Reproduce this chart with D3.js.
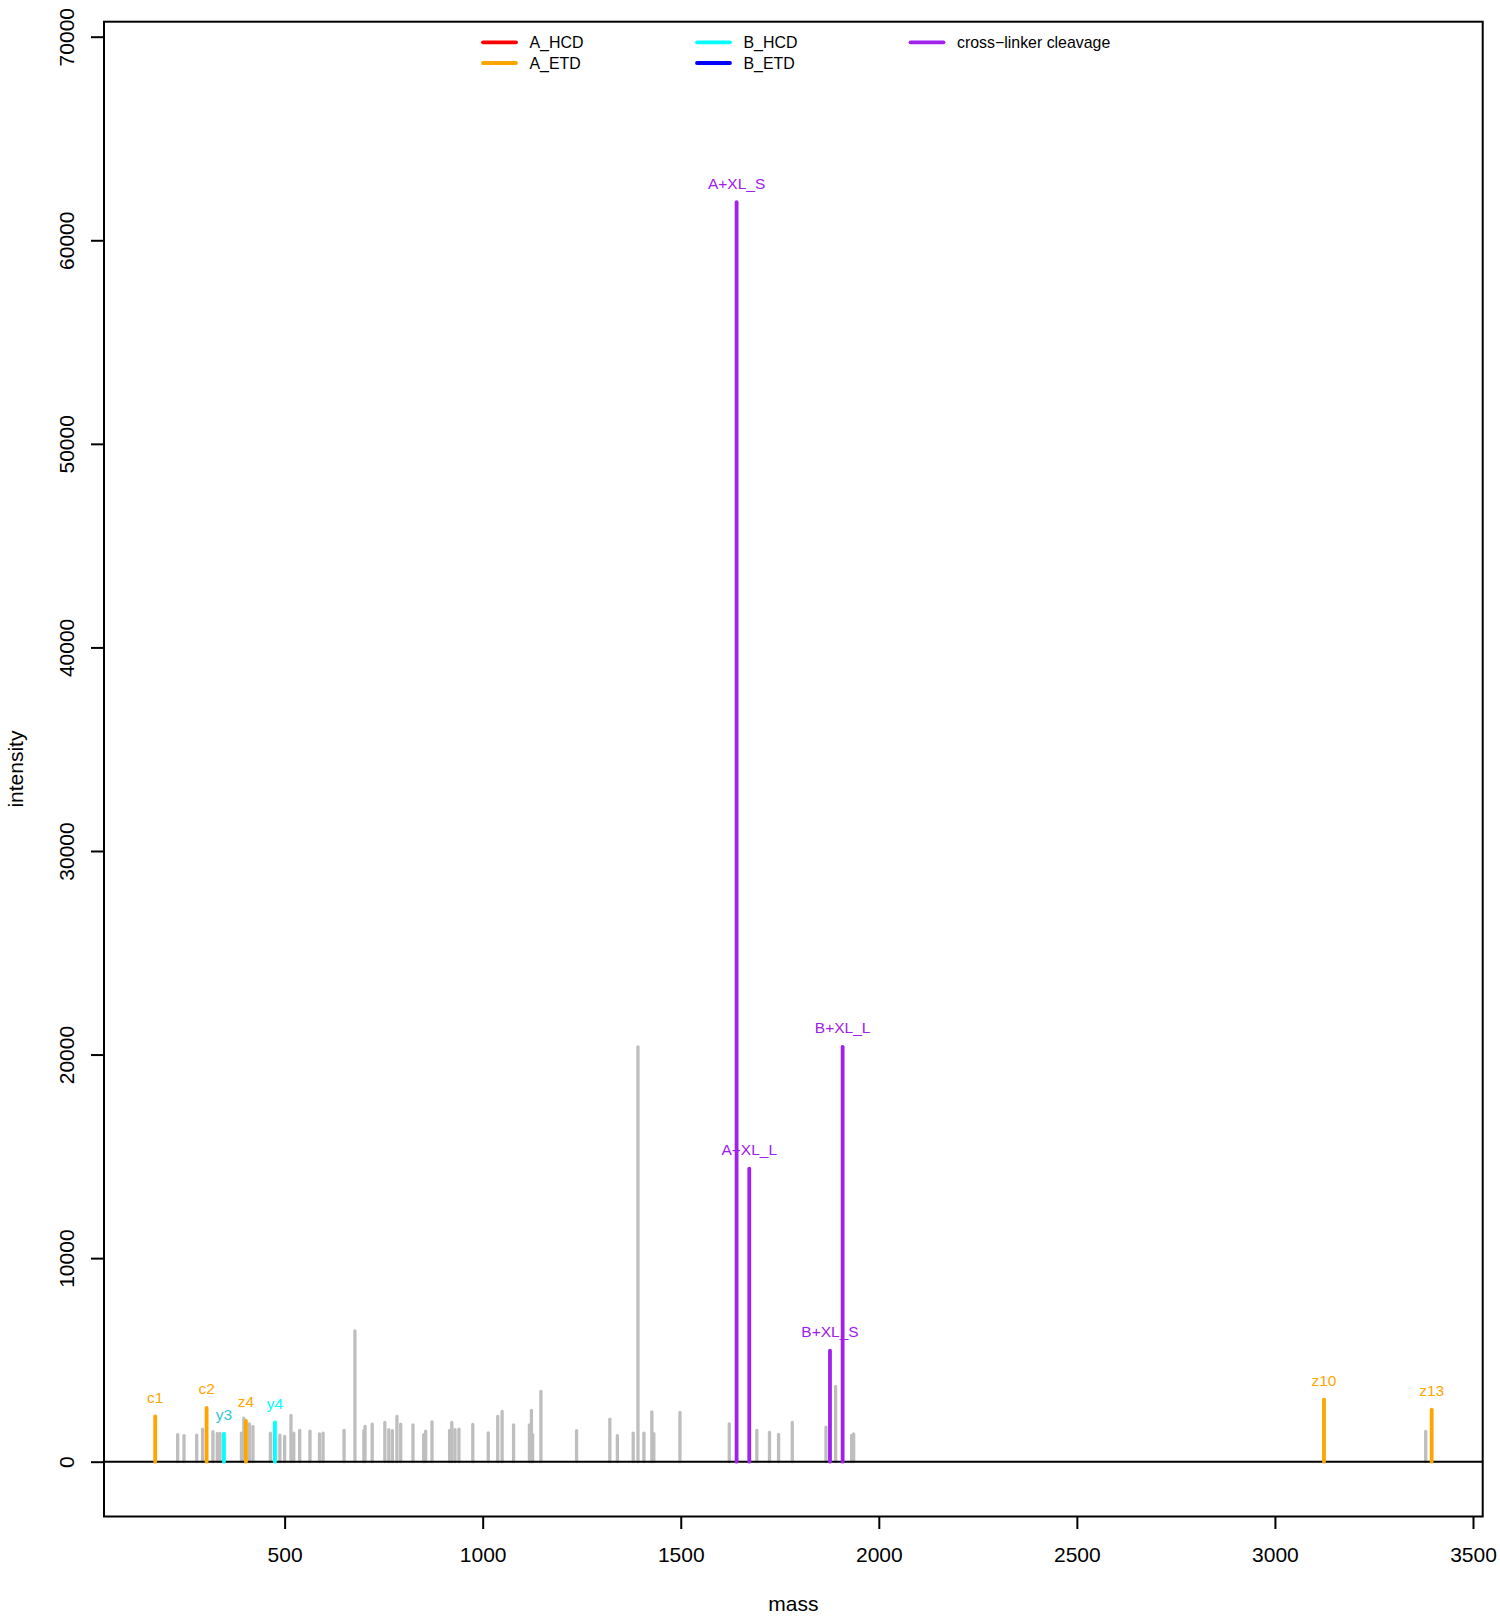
<!DOCTYPE html>
<html>
<head>
<meta charset="utf-8">
<script src="https://cdn.jsdelivr.net/npm/d3@7/dist/d3.min.js"></script>
<style>
  html, body { margin: 0; padding: 0; background: #fff; }
  svg { display: block; font-family: "Liberation Sans", Arial, Helvetica, sans-serif; }
</style>
</head>
<body>
<svg id="chart" width="1500" height="1619"></svg>
<script>
// ---- data ----
const grayMass = [230, 246, 278, 293, 319, 330, 337, 391, 397, 411, 420, 464, 488, 500, 516, 523, 538, 564, 588, 597,
  650, 677.5, 700, 703, 721, 753, 763, 772, 783.5, 793, 824, 851, 856, 872, 916.5, 922, 930, 940, 975, 1014,
  1038, 1049, 1078, 1118, 1123, 1126, 1147, 1237, 1321, 1340, 1380, 1392, 1407, 1427, 1432, 1498,
  1622.5, 1692, 1724, 1747, 1781.5, 1866.6, 1891, 1931.4, 1936.5, 3380.6];
const grayIntensity = [1330, 1280, 1310, 1600, 1470, 1390, 1390, 1400, 2140, 1860, 1730, 1400, 1310, 1240, 2270, 1400, 1540, 1500, 1360, 1400,
  1540, 6420, 1520, 1730, 1850, 1930, 1570, 1520, 2220, 1850, 1810, 1330, 1500, 1950, 1540, 1930, 1570, 1600, 1830, 1420,
  2220, 2470, 1810, 1810, 2520, 1330, 3450, 1520, 2090, 1280, 1400, 20380, 1400, 2450, 1380, 2420,
  1860, 1540, 1440, 1340, 1930, 1700, 3700, 1290, 1360, 1490];

const annLabels = ["c1", "c2", "y3", "z4", "y4", "A+XL_S", "A+XL_L", "B+XL_S", "B+XL_L", "z10", "z13"];
const annMass = [173.3, 303, 346.8, 402.3, 475.5, 1641, 1673, 1876.7, 1908.7, 3123.8, 3395.7];
const annIntensity = [2230, 2640, 1380, 2010, 1930, 61870, 14400, 5460, 20380, 3050, 2560];
const annType = ["A_ETD", "A_ETD", "B_HCD", "A_ETD", "B_HCD", "XL", "XL", "XL", "XL", "A_ETD", "A_ETD"];

const legendLabels = ["A_HCD", "A_ETD", "B_HCD", "B_ETD", "cross\u2212linker cleavage"];
const legendTypes = ["A_HCD", "A_ETD", "B_HCD", "B_ETD", "XL"];
const yTicks = [0, 10000, 20000, 30000, 40000, 50000, 60000, 70000];
const xTicks = [500, 1000, 1500, 2000, 2500, 3000, 3500];

// ---- styles ----
const typeColor = { A_HCD: "#FF0000", A_ETD: "#FFA500", B_HCD: "#00FFFF", B_ETD: "#0000FF", XL: "#A020F0" };
const labelColor = { A_HCD: "#FF0000", A_ETD: "#FFA500", B_HCD: "#00FFFF", B_ETD: "#0000FF", XL: "#A020F0" };

const pLeft = 104, pRight = 1482.7, pTop = 21.7, pBottom = 1516.5;
const svg = d3.select("#chart");
svg.append("rect").attr("width", 1500).attr("height", 1619).attr("fill", "#fff");

const x = d3.scaleLinear().domain([44, 3524.5]).range([pLeft, pRight]);
const y = d3.scaleLinear().domain([-2692, 70737]).range([pBottom, pTop]);

// gray peaks
svg.append("g").selectAll("line").data(grayMass.map((m, i) => ({ m, v: grayIntensity[i] })))
  .join("line")
  .attr("x1", d => x(d.m)).attr("x2", d => x(d.m))
  .attr("y1", y(0)).attr("y2", d => y(d.v))
  .attr("stroke", "#BEBEBE").attr("stroke-width", 3.3).attr("stroke-linecap", "round");

// baseline
svg.append("line").attr("x1", pLeft).attr("x2", pRight).attr("y1", y(0)).attr("y2", y(0))
  .attr("stroke", "#000").attr("stroke-width", 2);

// annotated peaks
const ann = annMass.map((m, i) => ({ m, v: annIntensity[i], label: annLabels[i], type: annType[i] }));
svg.append("g").selectAll("line").data(ann).join("line")
  .attr("x1", d => x(d.m)).attr("x2", d => x(d.m))
  .attr("y1", y(0)).attr("y2", d => y(d.v))
  .attr("stroke", d => typeColor[d.type]).attr("stroke-width", 3.8).attr("stroke-linecap", "round");

svg.append("g").selectAll("text").data(ann).join("text")
  .attr("x", d => x(d.m)).attr("y", d => y(d.v) - 13.5)
  .attr("text-anchor", "middle").attr("font-size", 15.5)
  .attr("fill", d => d.label === "y3" ? "#33C6D2" : labelColor[d.type])
  .text(d => d.label);

// box
svg.append("rect").attr("x", pLeft).attr("y", pTop).attr("width", pRight - pLeft).attr("height", pBottom - pTop)
  .attr("fill", "none").attr("stroke", "#000").attr("stroke-width", 2);

// x axis
const xAxis = d3.axisBottom(x).tickValues(xTicks).tickSize(12.5).tickPadding(0).tickFormat(d3.format("d"));
const gx = svg.append("g").attr("transform", `translate(0,${pBottom})`).call(xAxis);
gx.select(".domain").remove();
gx.selectAll(".tick line").attr("stroke", "#000").attr("stroke-width", 2);
gx.selectAll(".tick text").attr("font-size", 21).attr("font-family", "Liberation Sans, Arial, sans-serif")
  .attr("fill", "#000").attr("dy", null).attr("y", 45.5);

// y axis
const yAxis = d3.axisLeft(y).tickValues(yTicks).tickSize(13).tickPadding(0).tickFormat(d3.format("d"));
const gy = svg.append("g").attr("transform", `translate(${pLeft},0)`).call(yAxis);
gy.select(".domain").remove();
gy.selectAll(".tick line").attr("stroke", "#000").attr("stroke-width", 2);
gy.selectAll(".tick text").attr("font-size", 21).attr("font-family", "Liberation Sans, Arial, sans-serif")
  .attr("fill", "#000").attr("x", null).attr("dy", null).attr("text-anchor", "middle")
  .attr("transform", "translate(-30,0) rotate(-90)");

// axis titles
svg.append("text").attr("x", (pLeft + pRight) / 2).attr("y", 1611).attr("text-anchor", "middle")
  .attr("font-size", 21).text("mass");
svg.append("text").attr("transform", `translate(23,${(pTop + pBottom) / 2}) rotate(-90)`)
  .attr("text-anchor", "middle").attr("font-size", 21).text("intensity");

// legend
const legX = [483, 483, 697, 697, 910.5];
const legY = [42.3, 63, 42.3, 63, 42.3];
const leg = svg.append("g");
legendLabels.forEach((lab, i) => {
  leg.append("line").attr("x1", legX[i]).attr("x2", legX[i] + 33).attr("y1", legY[i]).attr("y2", legY[i])
    .attr("stroke", typeColor[legendTypes[i]]).attr("stroke-width", 3.8).attr("stroke-linecap", "round");
  leg.append("text").attr("x", legX[i] + 46.5).attr("y", legY[i] + 5.6).attr("font-size", 15.9).text(lab);
});
</script>
</body>
</html>
